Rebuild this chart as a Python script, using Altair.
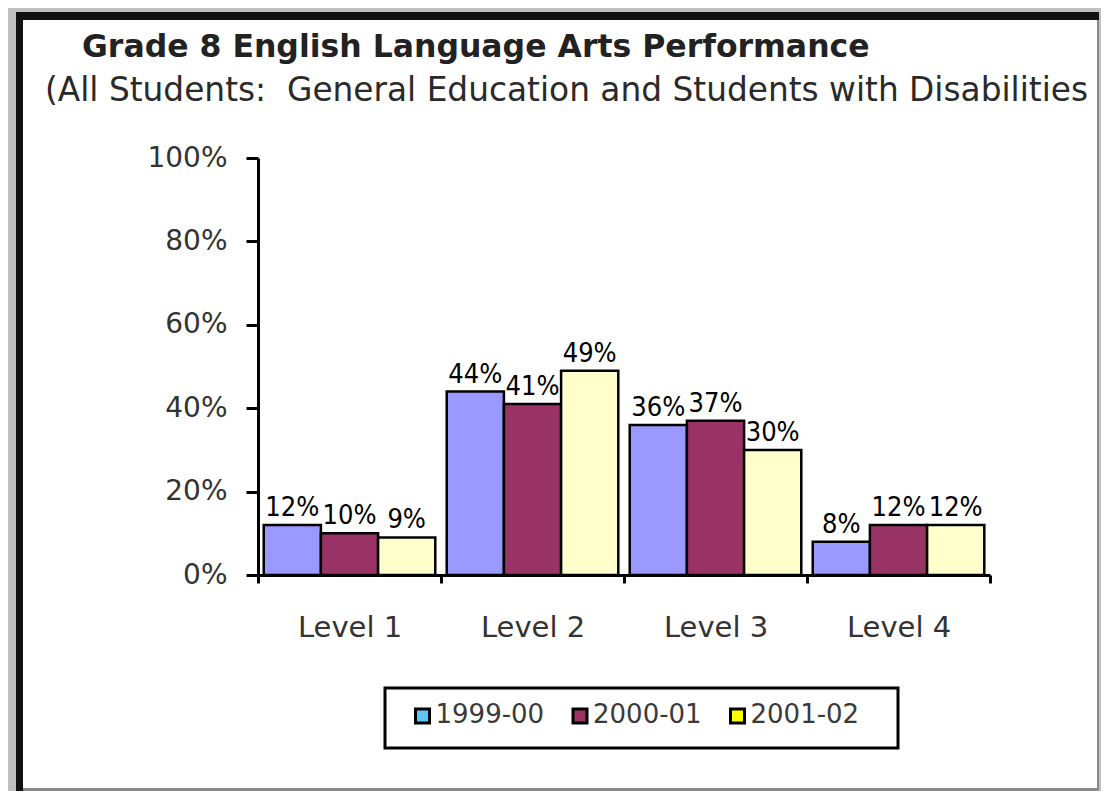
import altair as alt
import pandas as pd

# ---------------- data ----------------
levels = ["Level 1", "Level 2", "Level 3", "Level 4"]
years = ["1999-00", "2000-01", "2001-02"]
pct_1999_00 = [12, 44, 36, 8]
pct_2000_01 = [10, 41, 37, 12]
pct_2001_02 = [9, 49, 30, 12]
y_ticks = [0, 20, 40, 60, 80, 100]
title_text = "Grade 8 English Language Arts Performance"
subtitle_text = "(All Students:\u00a0 General Education and Students with Disabilities"

# ---------------- styles ----------------
bar_colors = ["#9999ff", "#993366", "#ffffcc"]
legend_colors = ["#5ec6f6", "#993366", "#ffff00"]
FONT = "DejaVu Sans"
NARROW = "Liberation Sans Narrow, DejaVu Sans Condensed, sans-serif"

rows = []
for yr, vals in zip(years, [pct_1999_00, pct_2000_01, pct_2001_02]):
    for lv, v in zip(levels, vals):
        rows.append({"level": lv, "year": yr, "pct": v / 100})
df = pd.DataFrame(rows)
legend_df = pd.DataFrame({"year": years})
one = pd.DataFrame({"k": [0]})

# plot area sits at page (258,158); helpers convert page px to plot px
OX, OY = 258, 158
W, H = 732, 417


def px(x):
    return x - OX


def py(y):
    return y - OY


def box(x1, y1, x2, y2, **kw):
    return alt.Chart(one).mark_rect(**kw).encode(
        x=alt.value(px(x1)), x2=alt.value(px(x2)),
        y=alt.value(py(y1)), y2=alt.value(py(y2)))


# frame: grey strips around a white panel (panel = chart background)
GREY = "#c0c0c0"
g_left = box(0, 0, 16, 800, fill=GREY)
g_top = box(0, 0, 1110, 12, fill=GREY)
g_right = box(1099, 0, 1110, 800, fill=GREY)
left_border = box(16, 12, 23, 800, fill="#111111")
top_border = box(16, 12, 1099, 20, fill="#111111")
right_line = box(1097, 20, 1099, 800, fill="#8a8a8a")
bottom_line = box(23, 788, 1099, 791, fill="#8a8a8a")

title = alt.Chart(one).mark_text(
    align="left", baseline="alphabetic", font=FONT, fontSize=31.5,
    fontWeight="bold", color="#222222").encode(
    x=alt.value(px(82)), y=alt.value(py(57)), text=alt.value(title_text))
subtitle = alt.Chart(one).mark_text(
    align="left", baseline="alphabetic", font=FONT, fontSize=32.8,
    color="#2a2a2a").encode(
    x=alt.value(px(45)), y=alt.value(py(101)), text=alt.value(subtitle_text))

# bars
x_scale = alt.Scale(domain=levels, paddingInner=0, paddingOuter=0)
xo = alt.XOffset("year:N", scale=alt.Scale(domain=years, paddingInner=0, paddingOuter=0.1))
y_scale = alt.Scale(domain=[0, 1], nice=False, zero=True)

bars = alt.Chart(df).mark_bar(stroke="black", strokeWidth=2.5).encode(
    x=alt.X("level:N", scale=x_scale, title=None,
            axis=alt.Axis(labelAngle=0, tickBand="extent", tickSize=8, tickWidth=3,
                          domainWidth=3, domainColor="black", tickColor="black",
                          labelFont=FONT, labelFontSize=29, labelColor="#333333",
                          labelPadding=30, zindex=1)),
    xOffset=xo,
    y=alt.Y("pct:Q", scale=y_scale, title=None,
            axis=alt.Axis(values=[t / 100 for t in y_ticks], format=".0%", grid=False,
                          tickSize=12, tickWidth=3, domainWidth=3, domainColor="black",
                          tickColor="black", labelFont=FONT, labelFontSize=28,
                          labelColor="#333333", labelPadding=19, zindex=1)),
    fill=alt.Fill("year:N", scale=alt.Scale(domain=years, range=bar_colors), legend=None),
)

labels = alt.Chart(df).mark_text(
    baseline="alphabetic", dy=-9, font=NARROW, fontSize=27, color="black").encode(
    x=alt.X("level:N", scale=x_scale),
    xOffset=xo,
    y=alt.Y("pct:Q", scale=y_scale),
    text=alt.Text("pct:Q", format=".0%"),
)

main = alt.layer(bars, labels)

# legend (manual, swatch colours differ from bar colours in the original)
legend_box = box(385, 688, 898, 748, fill="white", stroke="black", strokeWidth=3)
leg_x = alt.X("year:N", scale=alt.Scale(type="point", domain=years,
                                        range=[px(422.5), px(737.5)], padding=0), axis=None)
leg_sw = alt.Chart(legend_df).mark_square(size=196, stroke="black", strokeWidth=3, opacity=1).encode(
    x=leg_x, y=alt.value(py(716)),
    fill=alt.Fill("year:N", scale=alt.Scale(domain=years, range=legend_colors), legend=None),
)
leg_tx = alt.Chart(legend_df).mark_text(
    align="left", baseline="middle", dx=13, font=FONT, fontSize=26, color="#3a3a3a").encode(
    x=leg_x, y=alt.value(py(715)), text="year:N")

chart = alt.layer(
    g_left, g_top, g_right, left_border, top_border, right_line, bottom_line,
    title, subtitle, main, legend_box, leg_sw, leg_tx,
).resolve_scale(x="independent", fill="independent").properties(
    width=W, height=H,
    padding={"left": OX - 8, "top": OY - 8, "right": 1093 - (OX - 8) - W, "bottom": 783 - (OY - 8) - H},
    autosize=alt.AutoSizeParams(type="none"),
).configure(
    background="white",
    view=alt.ViewConfig(stroke="transparent", strokeWidth=0),
)

chart.save("out.html", embed_options={"renderer": "svg", "actions": False})
